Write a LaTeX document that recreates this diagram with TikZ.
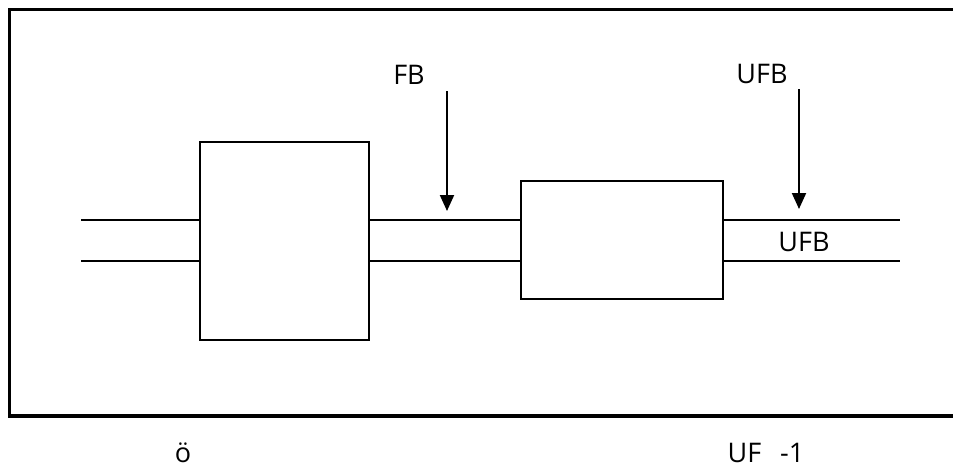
\documentclass[tikz,border=0pt]{standalone}
\usepackage{fontspec}
\setmainfont{Open Sans}
\usetikzlibrary{arrows.meta}
\begin{document}
\begin{tikzpicture}[x=1pt,y=-1pt,
  frameline/.style={line width=3.6pt},
  thin/.style={line width=2pt},
  blockbox/.style={draw,line width=2pt,inner sep=0pt},
  feed/.style={line width=2pt,-{Triangle[width=14pt,length=16pt]}},
  lbl/.style={font=\fontsize{27}{32}\selectfont,inner sep=0pt}]
\useasboundingbox (0,0) rectangle (953,469);
\draw[frameline] (953,9.5) -- (9.5,9.5) -- (9.5,416) -- (953,416);
\node[blockbox,minimum width=169pt,minimum height=198pt] (b1) at (284.5,241) {};
\node[blockbox,minimum width=202pt,minimum height=118pt] (b2) at (622,240) {};
\coordinate (inA) at (81,220);
\coordinate (inB) at (81,261);
\coordinate (outA) at (900,220);
\coordinate (outB) at (900,261);
\draw[thin] (inA) -- (inA -| b1.west);
\draw[thin] (inB) -- (inB -| b1.west);
\draw[thin] (inA -| b1.east) -- (inA -| b2.west);
\draw[thin] (inB -| b1.east) -- (inB -| b2.west);
\draw[thin] (outA -| b2.east) -- (outA);
\draw[thin] (outB -| b2.east) -- (outB);
\node[lbl] (fb) at (409,75) {FB};
\node[lbl] (ufb) at (762,74) {UFB};
\coordinate (fbs) at (447,91);
\coordinate (fbe) at (447,211);
\coordinate (ufbs) at (799,89);
\coordinate (ufbe) at (799,209);
\draw[feed] (fbs) -- (fbe);
\draw[feed] (ufbs) -- (ufbe);
\node[lbl] (ufbin) at (804,242) {UFB};
\node[lbl] (oe) at (183,453) {ö};
\node[lbl] (uf) at (766,453) {UF\hspace{0.7em}-1};
\end{tikzpicture}
\end{document}
